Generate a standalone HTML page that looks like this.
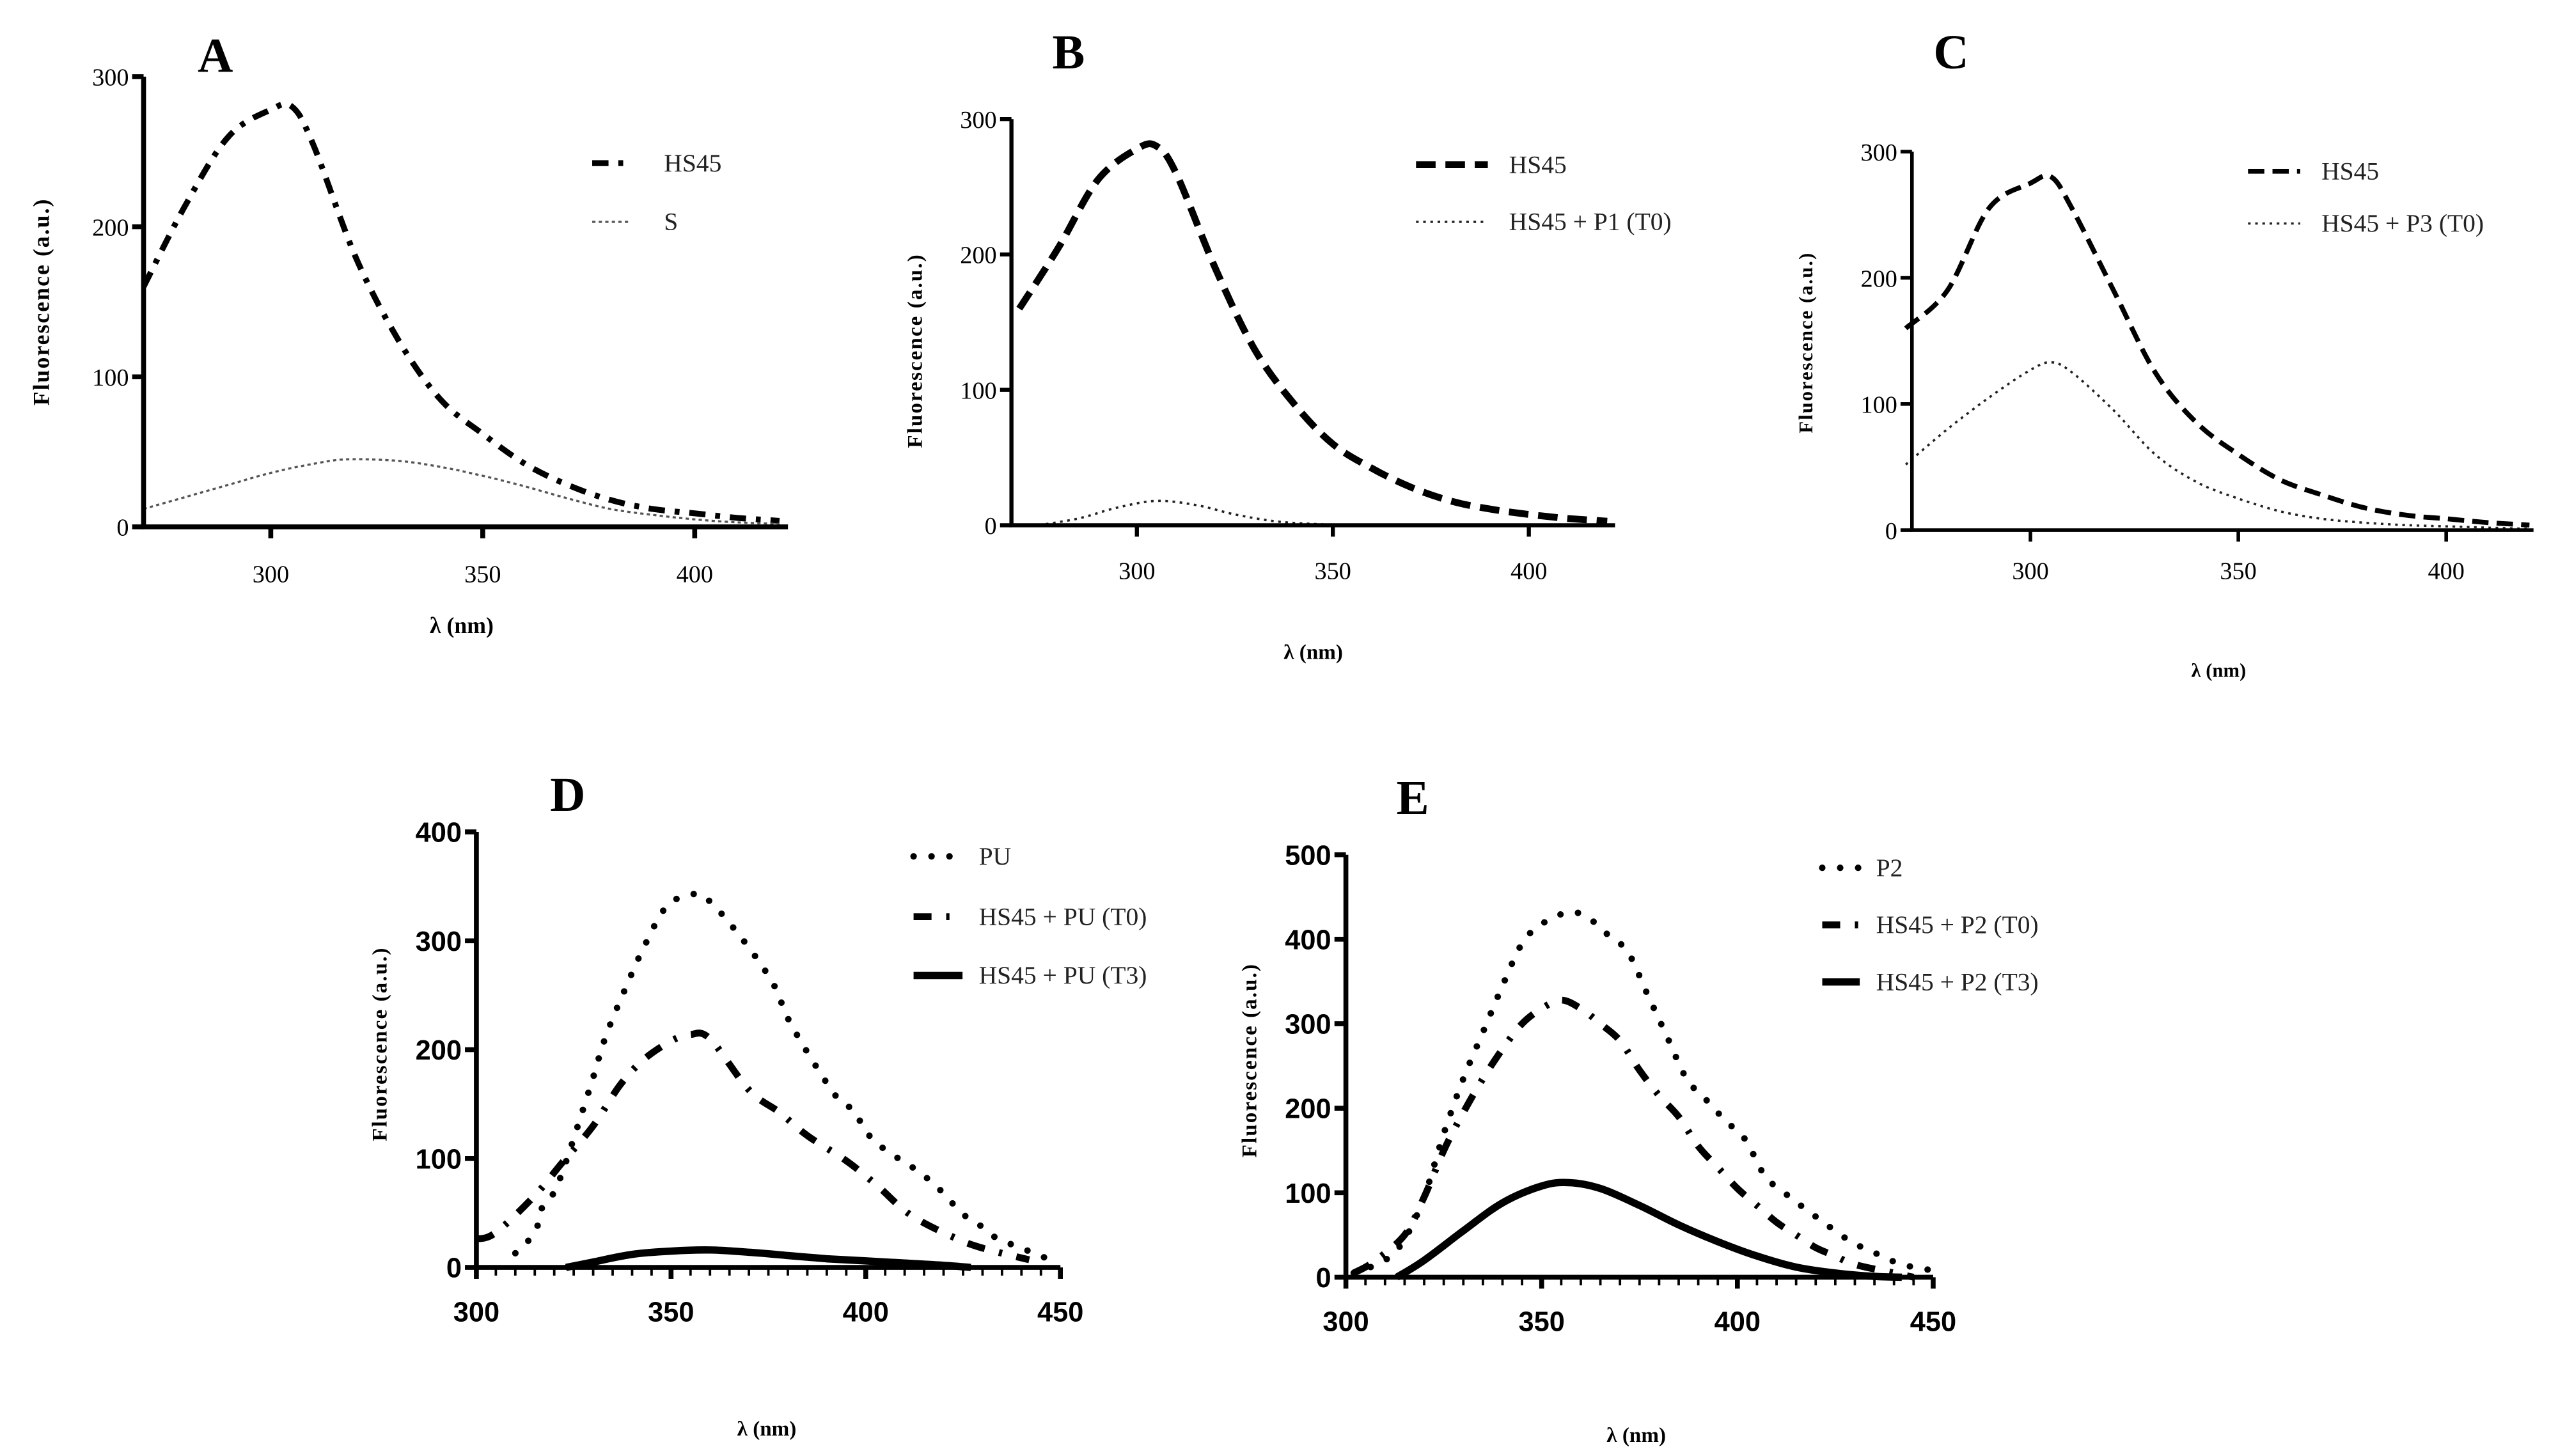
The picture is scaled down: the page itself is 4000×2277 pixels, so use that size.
<!DOCTYPE html>
<html><head><meta charset="utf-8"><style>
html,body{margin:0;padding:0;background:#fff;}
svg{display:block;}
</style></head><body>
<svg id="fig" xmlns="http://www.w3.org/2000/svg" width="4000" height="2277" viewBox="0 0 1568 892.6">
<rect width="1568" height="892.6" fill="#fff"/>
</svg>
<script>
// ---- data (wavelength nm, fluorescence a.u.) ----
const aX_HS45=[270,280,290,300,305,310,320,330,340,350,360,370,380,390,400,410,420];
const aY_HS45=[160,215,260,278,280,255,180,125,85,62,42,28,18,12,9,6,4];
const aX_S=[270,280,290,300,310,318,330,340,350,360,370,380,390,400,410,420];
const aY_S=[12,20,28,36,42,45,44,40,34,27,19,12,8,5,3,2];
const bX_HS45=[270,280,290,300,305,310,320,330,340,350,360,370,380,390,400,410,420];
const bY_HS45=[160,205,255,278,280,260,190,130,90,60,42,28,18,12,8,5,3];
const bX_P1=[275,285,295,305,315,325,335,345,355,365];
const bY_P1=[0,5,13,18,15,8,3,1,0,0];
const cX_HS45=[270,280,290,300,305,310,320,330,340,350,360,370,380,390,400,410,420];
const cY_HS45=[160,190,255,275,280,255,190,125,85,60,40,28,18,12,9,6,4];
const cX_P3=[270,280,290,300,305,310,320,330,340,350,360,370,380,390,400,410,420];
const cY_P3=[52,80,105,127,133,125,95,60,38,25,15,9,6,4,3,2,1];
const dX_PU=[310,315,317,321,329,333,338,343,349,356,360,368,376,381,392,397,400,405,412,418,425,430,434,440,445,450];
const dY_PU=[13,32,56,77,163,210,254,294,332,343,336,303,262,222,159,144,125,108,92,75,49,37,26,18,10,7];
const dX_T0=[300,305,315,322,330,337,343,350,355,360,370,378,385,395,403,412,425,434,442];
const dY_T0=[26,32,66,96,130,168,191,208,214,210,163,142,121,98,75,47,24,14,7];
const dX_T3=[323,330,340,350,360,370,380,390,400,410,420,427];
const dY_T3=[0,5,12,15,16,14,11,8,6,4,2,0];
const eX_P2=[302,310,315,320,325,330,335,340,345,350,357,362,367,372,377,382,387,392,397,402,407,412,417,422,427,432,437,442,450];
const eY_P2=[5,20,45,95,170,235,290,345,395,418,432,425,405,385,335,285,235,210,185,163,120,100,82,65,48,35,25,15,8];
const eX_T0=[302,307,315,320,325,330,335,340,345,350,355,360,365,370,375,380,385,390,395,400,405,410,415,420,425,430,440,445];
const eY_T0=[5,18,50,95,150,195,235,270,300,318,328,318,300,280,245,215,190,155,130,105,85,65,50,35,25,15,5,0];
const eX_T3=[313,320,330,340,350,357,365,375,385,395,405,415,425,435,442];
const eY_T3=[0,20,55,88,108,112,105,85,62,42,25,12,5,1,0];
const aTicksX=[300,350,400], aTicksY=[0,100,200,300];
const dTicksX=[300,350,400,450], dTicksY=[0,100,200,300,400];
const eTicksX=[300,350,400,450], eTicksY=[0,100,200,300,400,500];

const NS="http://www.w3.org/2000/svg";
const svg=document.getElementById('fig');
function el(tag,attrs,parent,text){const e=document.createElementNS(NS,tag);for(const k in attrs)e.setAttribute(k,attrs[k]);if(text!==undefined)e.textContent=text;(parent||svg).appendChild(e);return e;}

const styles={
 dashdotA:{w:3.6,d:"10 6 3 6",c:"#000",cap:"butt"},
 dotS:{w:1.3,d:"2 2",c:"#555",cap:"butt"},
 dashB:{w:4.2,d:"12 6",c:"#000",cap:"butt"},
 dotP:{w:1.4,d:"1.6 2.8",c:"#222",cap:"butt"},
 dashC:{w:3,d:"10 5",c:"#000",cap:"butt"},
 dots:{w:4,d:"0 11",c:"#000",cap:"round"},
 dashdotD:{w:4.2,d:"11 9 2 9",c:"#000",cap:"butt"},
 solid:{w:4.5,d:"",c:"#000",cap:"butt"}
};

function smooth(pts){
 let d='M'+pts[0][0].toFixed(1)+','+pts[0][1].toFixed(1);
 for(let i=0;i<pts.length-1;i++){
  const p0=pts[i-1]||pts[i],p1=pts[i],p2=pts[i+1],p3=pts[i+2]||p2;
  const c1=[p1[0]+(p2[0]-p0[0])/6,p1[1]+(p2[1]-p0[1])/6];
  const c2=[p2[0]-(p3[0]-p1[0])/6,p2[1]-(p3[1]-p1[1])/6];
  d+='C'+c1.map(v=>v.toFixed(1)).join(',')+' '+c2.map(v=>v.toFixed(1)).join(',')+' '+p2[0].toFixed(1)+','+p2[1].toFixed(1);
 }
 return d;
}

function panel(cfg){
 const g=el('g',{},svg);
 
 
 const sx=v=>cfg.x0+(v-cfg.xmin)/(cfg.xmax-cfg.xmin)*(cfg.x1-cfg.x0);
 const sy=v=>cfg.y0-(v/cfg.ymax)*(cfg.y0-cfg.y1);
 const bold=cfg.boldTicks;
 const tf=bold?'"Liberation Sans", sans-serif':'"Liberation Serif", serif';
 cfg.series.forEach(s=>{
  const st=styles[s.style];
  const d=smooth(s.x.map((x,i)=>[sx(x),sy(s.y[i])]));
  const p=el('path',{d:d,fill:'none',stroke:st.c,'stroke-width':st.w,'stroke-dasharray':st.d,'stroke-linecap':st.cap,'stroke-linejoin':'round'},g);
  
  
 });
 const ax=el('path',{d:`M${cfg.x0},${cfg.y1}L${cfg.x0},${cfg.y0}L${cfg.x1},${cfg.y0}`,fill:'none',stroke:'#000','stroke-width':cfg.aw},g);
 
 
 cfg.ty.forEach(v=>{
  el('line',{x1:cfg.x0-7,x2:cfg.x0,y1:sy(v),y2:sy(v),stroke:'#000','stroke-width':cfg.aw},g);
  const t=el('text',{x:cfg.x0-9,y:sy(v)+cfg.fs*0.36,'text-anchor':'end','font-family':tf,'font-size':cfg.fs,'font-weight':bold?'bold':'normal'},g,String(v));
  
  
 });
 cfg.tx.forEach(v=>{
  el('line',{x1:sx(v),x2:sx(v),y1:cfg.y0,y2:cfg.y0+7,stroke:'#000','stroke-width':cfg.aw},g);
  const t=el('text',{x:sx(v),y:cfg.tly,'text-anchor':'middle','font-family':tf,'font-size':cfg.fs,'font-weight':bold?'bold':'normal'},g,String(v));
  
  
 });
 if(cfg.minor){for(let v=cfg.xmin+5;v<cfg.xmax;v+=5){if(v%50)el('line',{x1:sx(v),x2:sx(v),y1:cfg.y0,y2:cfg.y0+5,stroke:'#000','stroke-width':1.5},g);}}
 const xt=el('text',{x:cfg.xlx,y:cfg.xly,'text-anchor':'middle','font-family':'"Liberation Serif", serif','font-size':cfg.tfs,'font-weight':'bold'},g,'λ (nm)');
 
 
 const yt=el('text',{x:0,y:0,transform:`translate(${cfg.ylx},${cfg.yly}) rotate(-90)`,'text-anchor':'middle','font-family':'"Liberation Serif", serif','font-size':cfg.tfs,'font-weight':'bold','letter-spacing':'0.8'},g,'Fluorescence (a.u.)');
 
 
 const pl=el('text',{x:cfg.lx,y:cfg.ly,'text-anchor':'middle','font-family':'"Liberation Serif", serif','font-size':30,'font-weight':'bold'},g,cfg.id);
 
 
 cfg.series.forEach((s,i)=>{
  const st=styles[s.style];
  const y=cfg.legY[i];
  const ll=el('line',{x1:cfg.legX[0],x2:cfg.legX[1],y1:y,y2:y,stroke:st.c,'stroke-width':st.w,'stroke-dasharray':st.d,'stroke-linecap':st.cap},g);
  
  
  const lt=el('text',{x:cfg.legX[2],y:y+5,'font-family':'"Liberation Serif", serif','font-size':15.5,fill:'#222'},g,s.label);
  
  
 });
}

panel({id:'A',x0:88,x1:483,xmin:270,xmax:422,y0:323,y1:47,ymax:300,aw:3,fs:15,tfs:14,tx:aTicksX,ty:aTicksY,tly:357,xlx:283,xly:388,ylx:30,yly:185,lx:132,ly:44,legX:[363,386,407],legY:[100,136],
 series:[{name:'hs45',label:'HS45',style:'dashdotA',x:aX_HS45,y:aY_HS45},{name:'s',label:'S',style:'dotS',x:aX_S,y:aY_S}]});
panel({id:'B',x0:620,x1:990,xmin:268,xmax:422,y0:322,y1:73,ymax:300,aw:2.5,fs:15,tfs:13,tx:aTicksX,ty:aTicksY,tly:355,xlx:805,xly:404,ylx:565,yly:215,lx:655,ly:42,legX:[868,912,925],legY:[101,136],
 series:[{name:'hs45',label:'HS45',style:'dashB',x:bX_HS45,y:bY_HS45},{name:'hs45-p1-t0',label:'HS45 + P1 (T0)',style:'dotP',x:bX_P1,y:bY_P1}]});
panel({id:'C',x0:1172,x1:1553,xmin:271.5,xmax:421,y0:325,y1:93,ymax:300,aw:2.2,fs:15,tfs:12,tx:aTicksX,ty:aTicksY,tly:355,xlx:1360,xly:415,ylx:1111,yly:210,lx:1196,ly:42,legX:[1378,1410,1423],legY:[105,137],
 series:[{name:'hs45',label:'HS45',style:'dashC',x:cX_HS45,y:cY_HS45},{name:'hs45-p3-t0',label:'HS45 + P3 (T0)',style:'dotP',x:cX_P3,y:cY_P3}]});
panel({id:'D',x0:292,x1:650,xmin:300,xmax:450,y0:777,y1:510,ymax:400,aw:3,fs:17,tfs:13,tx:dTicksX,ty:dTicksY,tly:810,xlx:470,xly:880,ylx:237,yly:640,lx:348,ly:497,legX:[560,590,600],legY:[525,562,598],boldTicks:true,minor:true,
 series:[{name:'pu',label:'PU',style:'dots',x:dX_PU,y:dY_PU},{name:'hs45-pu-t0',label:'HS45 + PU (T0)',style:'dashdotD',x:dX_T0,y:dY_T0},{name:'hs45-pu-t3',label:'HS45 + PU (T3)',style:'solid',x:dX_T3,y:dY_T3}]});
panel({id:'E',x0:825,x1:1185,xmin:300,xmax:450,y0:783,y1:524,ymax:500,aw:3,fs:17,tfs:13,tx:eTicksX,ty:eTicksY,tly:816,xlx:1003,xly:884,ylx:770,yly:650,lx:866,ly:499,legX:[1117,1140,1150],legY:[532,567,602],boldTicks:true,minor:true,
 series:[{name:'p2',label:'P2',style:'dots',x:eX_P2,y:eY_P2},{name:'hs45-p2-t0',label:'HS45 + P2 (T0)',style:'dashdotD',x:eX_T0,y:eY_T0},{name:'hs45-p2-t3',label:'HS45 + P2 (T3)',style:'solid',x:eX_T3,y:eY_T3}]});
</script>
</body></html>
